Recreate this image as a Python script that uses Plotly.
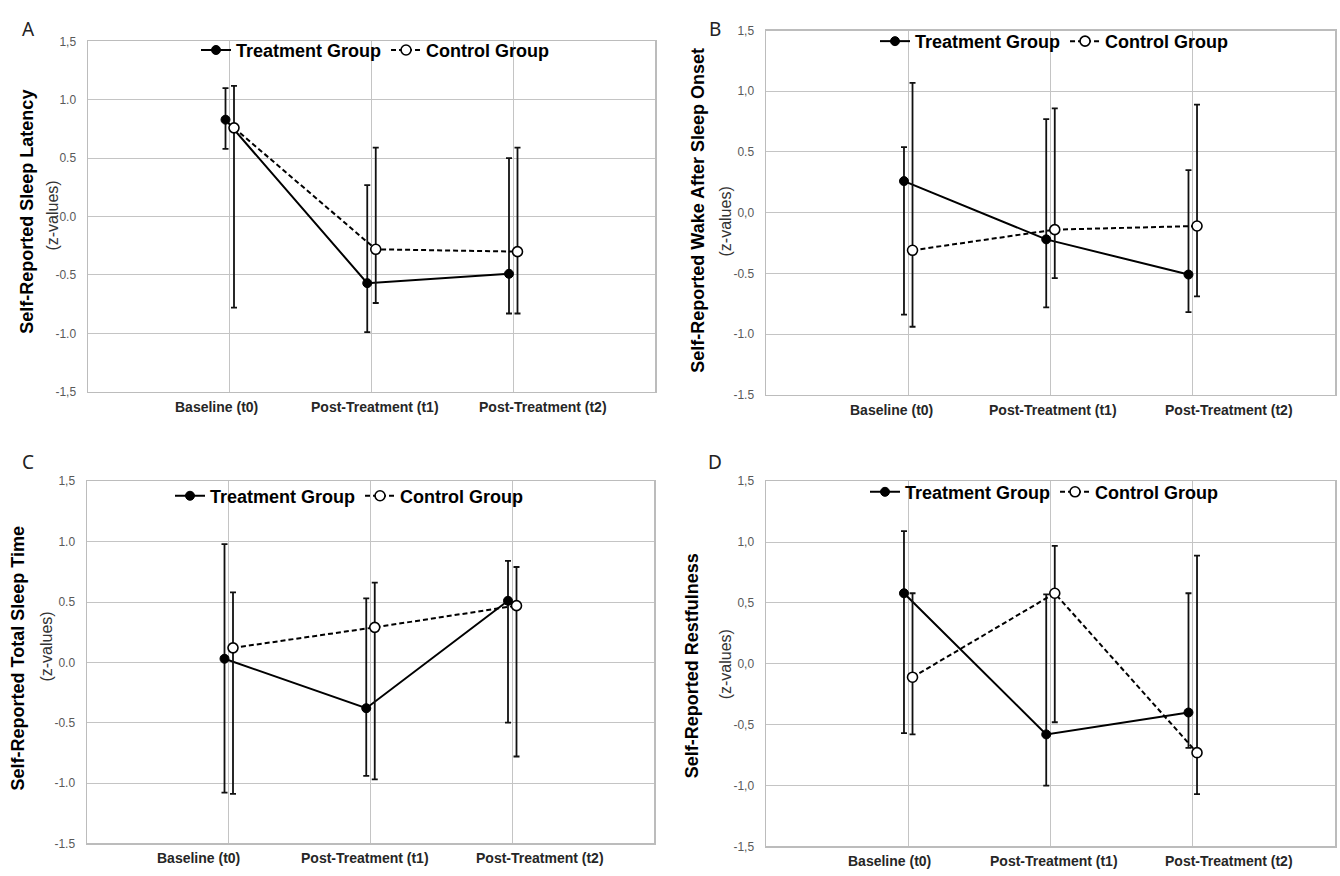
import plotly.graph_objects as go

# ---------------- data ----------------
categories = ["Baseline (t0)", "Post-Treatment (t1)", "Post-Treatment (t2)"]
cat_pos = [1, 2, 3]
group_names = ["Treatment Group", "Control Group"]

# Panel A: Sleep latency
A_treat = [0.83, -0.57, -0.49]
A_treat_hi = [1.10, 0.27, 0.50]
A_treat_lo = [0.58, -0.99, -0.83]
A_ctrl = [0.76, -0.28, -0.30]
A_ctrl_hi = [1.12, 0.59, 0.59]
A_ctrl_lo = [-0.78, -0.74, -0.83]

# Panel B: Wake after sleep onset
B_treat = [0.26, -0.22, -0.51]
B_treat_hi = [0.54, 0.77, 0.35]
B_treat_lo = [-0.84, -0.78, -0.82]
B_ctrl = [-0.31, -0.14, -0.11]
B_ctrl_hi = [1.07, 0.86, 0.89]
B_ctrl_lo = [-0.94, -0.54, -0.69]

# Panel C: Total sleep time
C_treat = [0.03, -0.38, 0.51]
C_treat_hi = [0.98, 0.53, 0.84]
C_treat_lo = [-1.08, -0.94, -0.50]
C_ctrl = [0.12, 0.29, 0.47]
C_ctrl_hi = [0.58, 0.66, 0.79]
C_ctrl_lo = [-1.09, -0.97, -0.78]

# Panel D: Restfulness
D_treat = [0.58, -0.58, -0.40]
D_treat_hi = [1.09, 0.57, 0.58]
D_treat_lo = [-0.57, -1.00, -0.69]
D_ctrl = [-0.11, 0.58, -0.73]
D_ctrl_hi = [0.58, 0.97, 0.89]
D_ctrl_lo = [-0.58, -0.48, -1.07]

y_tickvals = [-1.5, -1.0, -0.5, 0.0, 0.5, 1.0, 1.5]
A_ticktext = ["-1,5", "-1.0", "-0.5", "0.0", "0.5", "1.0", "1,5"]
B_ticktext = ["-1.5", "-1.0", "-0.5", "0,0", "0.5", "1,0", "1,5"]
C_ticktext = ["-1.5", "-1.0", "-0.5", "0.0", "0.5", "1.0", "1,5"]
D_ticktext = ["-1,5", "-1,0", "-0,5", "0,0", "0,5", "1,0", "1,5"]

titles = ["Self-Reported Sleep Latency",
          "Self-Reported Wake After Sleep Onset",
          "Self-Reported Total Sleep Time",
          "Self-Reported Restfulness"]
letters = ["A", "B", "C", "D"]

# ---------------- layout helpers ----------------
W, H = 1340, 876
FONT = "Liberation Sans, Arial, sans-serif"

panels = [
    dict(letter=letters[0], title=titles[0], tt=A_ticktext,
         t=(A_treat, A_treat_hi, A_treat_lo), c=(A_ctrl, A_ctrl_hi, A_ctrl_lo),
         box=(88, 655, 35, 391), lg=(196, 44), let=(28, 22),
         ttl=(27, 208), zv=(53, 212), lab=[-0.09, 0.025, 0.21]),
    dict(letter=letters[1], title=titles[1], tt=B_ticktext,
         t=(B_treat, B_treat_hi, B_treat_lo), c=(B_ctrl, B_ctrl_hi, B_ctrl_lo),
         box=(766, 1335, 24, 394), lg=(875, 35), let=(715, 22),
         ttl=(698, 207), zv=(726, 218), lab=[-0.115, 0.02, 0.255]),
    dict(letter=letters[2], title=titles[2], tt=C_ticktext,
         t=(C_treat, C_treat_hi, C_treat_lo), c=(C_ctrl, C_ctrl_hi, C_ctrl_lo),
         box=(87, 654, 482, 850), lg=(170, 497), let=(28, 462),
         ttl=(18, 662), zv=(47, 650), lab=[-0.21, -0.04, 0.195]),
    dict(letter=letters[3], title=titles[3], tt=D_ticktext,
         t=(D_treat, D_treat_hi, D_treat_lo), c=(D_ctrl, D_ctrl_hi, D_ctrl_lo),
         box=(766, 1335, 482, 853), lg=(865, 493), let=(715, 462),
         ttl=(692, 670), zv=(725, 668), lab=[-0.13, 0.025, 0.255]),
]

fig = go.Figure()
annotations = []
layout = {}

for i, p in enumerate(panels):
    n = "" if i == 0 else str(i + 1)
    xa, ya, lg = "x" + n, "y" + n, "legend" + n
    x0, x1, y0, y1 = p["box"]

    for gi, (vals, hi, lo) in enumerate([p["t"], p["c"]]):
        off = -0.03 if gi == 0 else 0.03
        if gi == 0:
            marker = dict(size=9, color="black", line=dict(color="black", width=1))
            line = dict(color="black", width=2)
        else:
            marker = dict(size=10, color="white", line=dict(color="black", width=1.6))
            line = dict(color="black", width=2, dash="5px,3px")
        fig.add_trace(go.Scatter(
            x=[c + off for c in cat_pos], y=vals,
            mode="lines+markers", name=group_names[gi],
            line=line, marker=marker,
            error_y=dict(type="data", symmetric=False,
                         array=[h - v for h, v in zip(hi, vals)],
                         arrayminus=[v - l for v, l in zip(vals, lo)],
                         color="#111111", thickness=1.8, width=3),
            xaxis=xa, yaxis=ya, legend=lg, hoverinfo="skip",
        ))

    layout["xaxis" + n] = dict(
        domain=[x0 / W, x1 / W], anchor=ya, range=[0, 4],
        tickvals=cat_pos, showticklabels=False, ticks="",
        showgrid=True, gridcolor="#c4c4c4", gridwidth=1,
        showline=True, mirror=True, linecolor="#bcbcbc", linewidth=1.5,
        zeroline=False, fixedrange=True,
    )
    layout["yaxis" + n] = dict(
        domain=[1 - y1 / H, 1 - y0 / H], anchor=xa, range=[-1.5, 1.5],
        tickvals=y_tickvals, ticktext=p["tt"], ticks="",
        tickfont=dict(family=FONT, size=12, color="#595959"),
        ticklabelstandoff=8,
        showgrid=True, gridcolor="#c4c4c4", gridwidth=1,
        showline=True, mirror=True, linecolor="#bcbcbc", linewidth=1.5,
        zeroline=False, fixedrange=True,
    )
    layout[lg] = dict(
        x=p["lg"][0] / W, y=1 - p["lg"][1] / H, xanchor="left", yanchor="middle",
        orientation="h", bgcolor="rgba(0,0,0,0)", borderwidth=0,
        font=dict(family=FONT, size=18, color="black", weight="bold"),
        itemwidth=30, tracegroupgap=0, itemclick=False, itemdoubleclick=False,
    )

    # x category labels
    for c, lab, dx in zip(cat_pos, categories, p["lab"]):
        annotations.append(dict(
            x=c + dx, xref=xa, y=0, yref=ya + " domain", yshift=-15,
            text="<b>" + lab + "</b>", showarrow=False,
            xanchor="center", yanchor="middle",
            font=dict(family=FONT, size=14, color="#262626"),
        ))
    # y-axis titles
    annotations.append(dict(
        x=p["ttl"][0] / W, y=1 - p["ttl"][1] / H, xref="paper", yref="paper",
        text="<b>" + p["title"] + "</b>", textangle=-90, showarrow=False,
        xanchor="center", yanchor="middle",
        font=dict(family=FONT, size=18, color="black"),
    ))
    annotations.append(dict(
        x=p["zv"][0] / W, y=1 - p["zv"][1] / H, xref="paper", yref="paper",
        text="(z-values)", textangle=-90, showarrow=False,
        xanchor="center", yanchor="middle",
        font=dict(family=FONT, size=16, color="#333333"),
    ))
    # panel letter
    annotations.append(dict(
        x=p["let"][0] / W, y=1 - p["let"][1] / H, xref="paper", yref="paper",
        text=p["letter"], showarrow=False, xanchor="center", yanchor="middle",
        font=dict(family="Noto Sans, Liberation Sans, sans-serif", size=19, color="#222"),
    ))

fig.update_layout(
    width=W, height=H, margin=dict(l=0, r=0, t=0, b=0),
    paper_bgcolor="white", plot_bgcolor="white",
    annotations=annotations, **layout,
)

fig.write_html("out.html", config={"displayModeBar": False, "staticPlot": True},
               post_script="document.body.style.margin='0';")
